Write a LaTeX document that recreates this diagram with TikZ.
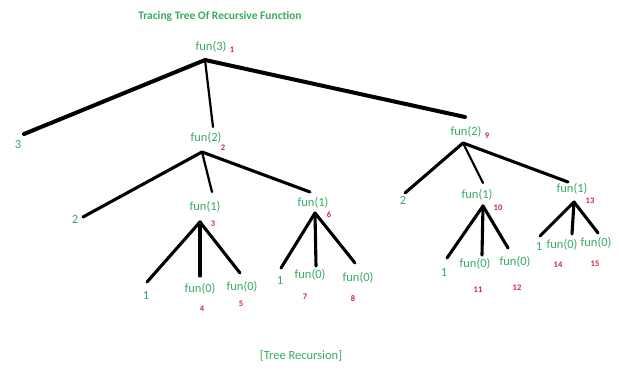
\documentclass[tikz,border=0pt]{standalone}
\usepackage{fontspec}
\setmainfont{Carlito}
\definecolor{tgreen}{RGB}{55,170,100}
\definecolor{tred}{RGB}{210,35,60}
\begin{document}
\begin{tikzpicture}[x=1pt,y=-1pt,
  lbl/.style={text=tgreen,font=\fontsize{12.5}{14}\selectfont,inner sep=0pt},
  num/.style={text=tred,font=\bfseries\fontsize{8.5}{10}\selectfont,inner sep=0pt},
  edge/.style={line width=3.1pt,line cap=round},
  thick edge/.style={line width=4pt,line cap=round},
  thin edge/.style={line width=2.2pt,line cap=round}]
\useasboundingbox (0,0) rectangle (619,370);
% texts
\node[lbl,font=\bfseries\fontsize{11.5}{13}\selectfont] (title) at (220,16) {Tracing Tree Of Recursive Function};
\node[lbl] (f3) at (211,47) {fun(3)};
\node[num] (n1) at (232,50) {1};
\node[lbl] (t3) at (18,144) {3};
\node[lbl] (f2a) at (206,138) {fun(2)};
\node[num] (n2) at (223,148) {2};
\node[lbl] (f2b) at (466,132) {fun(2)};
\node[num] (n9) at (487,136) {9};
\node[lbl] (t2a) at (75,219) {2};
\node[lbl] (f1a) at (205,207) {fun(1)};
\node[num] (n3) at (213,224) {3};
\node[lbl] (f1b) at (313,203) {fun(1)};
\node[num] (n6) at (329,215) {6};
\node[lbl] (t1a) at (146,295) {1};
\node[lbl] (f0a) at (200,289) {fun(0)};
\node[num] (n4) at (202,309) {4};
\node[lbl] (f0b) at (242,287) {fun(0)};
\node[num] (n5) at (241,304) {5};
\node[lbl] (t1b) at (280,280) {1};
\node[lbl] (f0c) at (310,275) {fun(0)};
\node[num] (n7) at (305,297) {7};
\node[lbl] (f0d) at (358,278) {fun(0)};
\node[num] (n8) at (353,299) {8};
\node[lbl] (t2b) at (403,200) {2};
\node[lbl] (f1c) at (477,195) {fun(1)};
\node[num] (n10) at (498,208) {10};
\node[lbl] (f1d) at (572,189) {fun(1)};
\node[num] (n13) at (590,201) {13};
\node[lbl] (t1c) at (444,272) {1};
\node[lbl] (f0e) at (475,264) {fun(0)};
\node[num] (n11) at (478,290) {11};
\node[lbl] (f0f) at (515,262) {fun(0)};
\node[num] (n12) at (517,288) {12};
\node[lbl] (t1d) at (539,246) {1};
\node[lbl] (f0g) at (562,245) {fun(0)};
\node[num] (n14) at (558,265) {14};
\node[lbl] (f0h) at (596,243) {fun(0)};
\node[num] (n15) at (595,264) {15};
\node[lbl] (cap) at (301,356) {[Tree Recursion]};
% joints
\coordinate (v3) at (205,60);
\coordinate (e3) at (24,134);
\coordinate (ef2a) at (213,127);
\coordinate (ef2b) at (465,117);
\coordinate (v2a) at (202,152);
\coordinate (e2a) at (83,217);
\coordinate (ef1a) at (212,192);
\coordinate (ef1b) at (310,192);
\coordinate (v1a) at (200,222);
\coordinate (e1a) at (147,282);
\coordinate (ef0a) at (200,276);
\coordinate (ef0b) at (240,273);
\coordinate (v1b) at (315,213);
\coordinate (e1b) at (281,268);
\coordinate (ef0c) at (316,266);
\coordinate (ef0d) at (355,263);
\coordinate (v2b) at (463,143);
\coordinate (e2b) at (405,193);
\coordinate (ef1c) at (483,183);
\coordinate (ef1d) at (568,182);
\coordinate (v1c) at (483,206);
\coordinate (e1c) at (447,258);
\coordinate (ef0e) at (482,255);
\coordinate (ef0f) at (508,248);
\coordinate (v1d) at (574,202);
\coordinate (e1d) at (540,236);
\coordinate (ef0g) at (572,234);
\coordinate (ef0h) at (598,233);
% connectors
\draw[thick edge] (v3) -- (e3);
\draw[thin edge] (v3) -- (ef2a);
\draw[thick edge] (v3) -- (ef2b);
\draw[edge] (v2a) -- (e2a);
\draw[thin edge] (v2a) -- (ef1a);
\draw[edge] (v2a) -- (ef1b);
\draw[edge] (v1a) -- (e1a);
\draw[edge] (v1a) -- (ef0a);
\draw[edge] (v1a) -- (ef0b);
\draw[edge] (v1b) -- (e1b);
\draw[edge] (v1b) -- (ef0c);
\draw[edge] (v1b) -- (ef0d);
\draw[edge] (v2b) -- (e2b);
\draw[thin edge] (v2b) -- (ef1c);
\draw[edge] (v2b) -- (ef1d);
\draw[edge] (v1c) -- (e1c);
\draw[edge] (v1c) -- (ef0e);
\draw[edge] (v1c) -- (ef0f);
\draw[edge] (v1d) -- (e1d);
\draw[edge] (v1d) -- (ef0g);
\draw[edge] (v1d) -- (ef0h);
\end{tikzpicture}
\end{document}
